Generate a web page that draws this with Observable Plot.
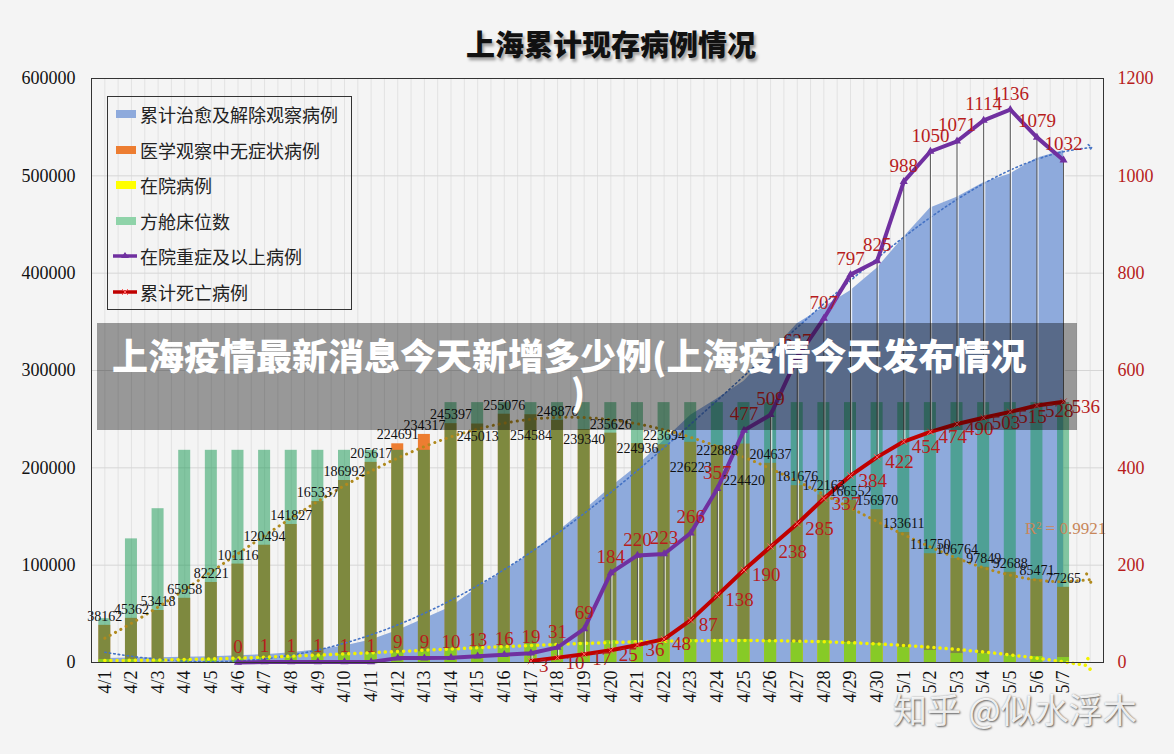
<!DOCTYPE html>
<html><head><meta charset="utf-8">
<script src="https://cdn.jsdelivr.net/npm/d3@7"></script>
<script src="https://cdn.jsdelivr.net/npm/@observablehq/plot@0.6"></script>
<style>
html,body{margin:0;padding:0;background:#f4f4f4;}
#wrap{position:relative;width:1174px;height:754px;overflow:hidden;background:#f4f4f4;}
#chart{position:absolute;left:0;top:0;}
#title{position:absolute;top:22px;left:611px;transform:translateX(-50%);font:900 29px "Noto Sans CJK SC";color:#111;text-shadow:2px 3px 3px rgba(0,0,0,0.35);white-space:nowrap;}
#legend{position:absolute;left:107px;top:96px;width:245px;height:214px;border:1px solid #333;box-sizing:border-box;font:18px "Noto Sans CJK SC";color:#222;}
.item{position:absolute;left:0;height:26px;width:240px;}
.item span{position:absolute;left:32px;top:0;line-height:26px;white-space:nowrap;}
.item svg{position:absolute;left:4px;top:5px;}
#banner{position:absolute;left:97px;top:323px;width:980px;height:107px;background:rgba(0,0,0,0.375);color:#fff;font:900 36px "Noto Sans CJK SC";line-height:36px;box-sizing:border-box;padding-top:13px;}
#banner .l1{padding-left:15px;white-space:nowrap;}
#banner .l2{text-align:center;margin-left:-18px;}
#wm{position:absolute;left:893px;top:684px;font:34px "Noto Sans CJK SC";color:rgba(255,255,255,0.9);text-shadow:1px 1px 2px rgba(0,0,0,0.55),0 0 2px rgba(0,0,0,0.3);white-space:nowrap;}
</style></head>
<body>
<div id="wrap">
  <div id="chart"></div>
  <div id="title"></div>
  <div id="legend"></div>
  <div id="banner"></div>
  <div id="wm"></div>
</div>
<script>
// ---------- data ----------
const titleText = "上海累计现存病例情况";
const dates = ["4/1","4/2","4/3","4/4","4/5","4/6","4/7","4/8","4/9","4/10","4/11","4/12","4/13","4/14","4/15","4/16","4/17","4/18","4/19","4/20","4/21","4/22","4/23","4/24","4/25","4/26","4/27","4/28","4/29","4/30","5/1","5/2","5/3","5/4","5/5","5/6","5/7"];
const seriesNames = ["累计治愈及解除观察病例","医学观察中无症状病例","在院病例","方舱床位数","在院重症及以上病例","累计死亡病例"];
const recovered = [4000,4500,5000,5500,6000,7000,8000,10000,13000,17000,23000,33000,45000,57000,77000,94000,112000,134000,156000,180000,202000,228000,254000,271000,289000,318000,348000,365000,382000,405000,437000,467000,478000,493000,502000,518000,526000];
const observing = [38162,45362,53418,65958,82221,101116,120494,141827,165337,186992,205617,224691,234317,245397,245013,255076,254584,248870,239340,235626,224936,223694,226223,222888,224420,204637,181676,172163,166552,156970,133611,111750,106764,97849,92688,85471,77265];
const hospital = [3000,3000,3000,3000,3500,4000,5000,6000,7000,8000,9000,10000,11000,14000,15000,16000,19000,19000,20500,22600,22600,22600,23600,23600,23600,22600,20500,22600,20500,19500,15500,12300,9200,9200,7200,6200,5100];
const beds = [45000,127000,158000,218000,218000,218000,218000,218000,218000,218000,218000,218000,218000,267000,267000,267000,267000,267000,267000,267000,267000,267000,267000,267000,267000,267000,267000,267000,267000,267000,267000,267000,267000,267000,267000,267000,267000];
const severe = [null,null,null,null,null,0,1,1,1,1,1,9,9,10,13,16,19,31,69,184,220,223,266,357,477,509,627,707,797,825,988,1050,1071,1114,1136,1079,1032];
const deaths = [null,null,null,null,null,null,null,null,null,null,null,null,null,null,null,null,3,10,17,25,36,48,87,138,190,238,285,337,384,422,454,474,490,503,515,528,536];
const leftTicks = [0,100000,200000,300000,400000,500000,600000];
const r2Text = "R² = 0.9921";
const bannerLine1 = "上海疫情最新消息今天新增多少例(上海疫情今天发布情况";
const bannerLine2 = ")";
const watermark = "知乎 @似水浮木";

// ---------- colors ----------
const C = {area:"#8eaadc", orange:"#ED7D31", yellow:"#FFFF00", green:"rgb(15,150,78)", greenSwatch:"#8fd3a9", purple:"#7030A0", red:"#C00000", label:"#b71c1c"};
const K = 600000/1200; // right axis maps onto left axis

// ---------- helpers ----------
function polyfit(ys, deg){
  const n = deg+1;
  const A = Array.from({length:n},()=>Array(n+1).fill(0));
  ys.forEach((y,i)=>{ const x=i+1; for(let r=0;r<n;r++){ for(let c=0;c<n;c++) A[r][c]+=Math.pow(x,r+c); A[r][n]+=y*Math.pow(x,r);} });
  for(let i=0;i<n;i++){
    let p=i; for(let k=i+1;k<n;k++) if(Math.abs(A[k][i])>Math.abs(A[p][i])) p=k;
    [A[i],A[p]]=[A[p],A[i]];
    for(let k=i+1;k<n;k++){ const f=A[k][i]/A[i][i]; for(let c=i;c<=n;c++) A[k][c]-=f*A[i][c]; }
  }
  const co=Array(n).fill(0);
  for(let i=n-1;i>=0;i--){ let s=A[i][n]; for(let c=i+1;c<n;c++) s-=A[i][c]*co[c]; co[i]=s/A[i][i]; }
  return x=>co.reduce((s,c,k)=>s+c*Math.pow(x,k),0);
}

const catDomain = [...dates, " "];
const rows = dates.map((d,i)=>({i, date:d, recovered:recovered[i], observing:observing[i], hospital:hospital[i], beds:beds[i], severe:severe[i], deaths:deaths[i]}));
const sev = rows.filter(d=>d.severe!=null);
const dea = rows.filter(d=>d.deaths!=null);
const both = rows.filter(d=>d.severe!=null && d.deaths!=null);

function trend(values, deg){
  const f = polyfit(values, deg);
  return catDomain.map((d,i)=>({date:d, v:f(i+1)}));
}
const tBlue = trend(recovered, 4);
const tBrown = trend(observing, 4);
const tYellow = trend(hospital, 3);

// bar-label vertical offset: crowded middle stretch staggers labels under the bar tops
const belowOffset = {14:12, 16:21, 18:10, 20:5, 22:25, 23:5, 24:36};
const labelDy = d => (d.i in belowOffset) ? belowOffset[d.i] : -9;

// ---------- chart ----------
const chart = Plot.plot({
  width:1174, height:754,
  marginTop:78, marginBottom:92, marginLeft:91, marginRight:71,
  style:{background:"transparent", fontFamily:"Liberation Serif", fontSize:"18px", color:"#111", overflow:"visible"},
  x:{type:"band", domain:catDomain, paddingInner:0.55, paddingOuter:0.275, round:false, axis:null},
  y:{domain:[0,600000], axis:null, label:null},
  marks:[
    Plot.ruleX(catDomain, {x:d=>d, stroke:"#e2e2e2", strokeWidth:1}),
    Plot.ruleX(catDomain, {x:d=>d, dx:13.3, stroke:"#e2e2e2", strokeWidth:1}),
    Plot.ruleY(leftTicks.slice(1), {y:d=>d, stroke:"#d6d6d6", strokeWidth:1}),
    Plot.areaY(rows, {x:"date", y:"recovered", fill:C.area}),
    Plot.barY(rows, {x:"date", y:"observing", fill:C.orange}),
    Plot.barY(rows, {x:"date", y:"hospital", fill:C.yellow}),
    Plot.barY(rows, {x:"date", y:"beds", fill:C.green, fillOpacity:0.5}),
    Plot.line(tBlue, {x:"date", y:"v", stroke:"#4472C4", strokeWidth:1.6, strokeDasharray:"1.5,3", curve:"natural", markerEnd:"arrow"}),
    Plot.line(tBrown, {x:"date", y:"v", stroke:"#b08a1e", strokeWidth:3, strokeLinecap:"round", strokeDasharray:"0.1,6", curve:"natural", markerEnd:"arrow"}),
    Plot.line(tYellow, {x:"date", y:"v", stroke:"#f2f200", strokeWidth:3.5, strokeLinecap:"round", strokeDasharray:"0.1,6", curve:"natural", markerEnd:"arrow"}),
    Plot.ruleX(both, {x:"date", y1:d=>d.deaths*K, y2:d=>d.severe*K, stroke:"#fff", strokeOpacity:0.8, strokeWidth:1.4, dx:1}),
    Plot.ruleX(both, {x:"date", y1:d=>d.deaths*K, y2:d=>d.severe*K, stroke:"#555", strokeWidth:1}),
    Plot.line(dea, {x:"date", y:d=>d.deaths*K, stroke:C.red, strokeWidth:4}),
    Plot.dot(dea, {x:"date", y:d=>d.deaths*K, symbol:"times", r:3, stroke:"#ff6060", strokeWidth:1}),
    Plot.line(sev, {x:"date", y:d=>d.severe*K, stroke:C.purple, strokeWidth:4}),
    Plot.dot(sev, {x:"date", y:d=>d.severe*K, symbol:"triangle", r:3, fill:C.purple}),
    ...rows.map(d => Plot.text([d], {x:"date", y:"observing", text:r=>String(r.observing), dy:labelDy(d), fontSize:14, fill:"#111"})),
    Plot.text(sev, {x:"date", y:d=>d.severe*K, text:d=>String(d.severe), dy:-16, fontSize:19, fill:C.label}),
    Plot.text(dea, {x:"date", y:d=>d.deaths*K, text:d=>String(d.deaths), textAnchor:"start", dx:8, dy:5, fontSize:19, fill:C.label}),
    Plot.text([r2Text], {x:()=>" ", y:()=>138000, text:d=>d, textAnchor:"end", dx:16, fontSize:17, fill:"#c8875a"}),
    Plot.frame({stroke:"#333", strokeWidth:1}),
    Plot.axisY({anchor:"left", ticks:leftTicks, tickSize:0, tickPadding:16, tickFormat:d3.format("d"), fontSize:18, label:null}),
    Plot.axisY({anchor:"right", ticks:leftTicks, tickSize:0, tickPadding:14, tickFormat:d=>d3.format("d")(d/K), fontSize:18, color:C.label, label:null}),
    Plot.axisX({tickRotate:-90, tickSize:0, tickPadding:8, fontSize:18, label:null})
  ]
});
document.getElementById("chart").appendChild(chart);

// ---------- html texts ----------
document.getElementById("title").textContent = titleText;
const legendKinds = ["rect","rect","rect","rect","line","line"];
const legendColors = [C.area, C.orange, C.yellow, C.greenSwatch, C.purple, C.red];
const legend = document.getElementById("legend");
seriesNames.forEach((name,i)=>{
  const it = document.createElement("div");
  it.className = "item";
  it.style.top = (4 + i*35.6) + "px";
  let sw;
  if(legendKinds[i]==="rect"){
    sw = `<svg width="26" height="16"><rect x="4" y="4" width="20" height="8" fill="${legendColors[i]}"/></svg>`;
  } else if(i===4){
    sw = `<svg width="26" height="16"><line x1="1" y1="8" x2="25" y2="8" stroke="${legendColors[i]}" stroke-width="3.5"/><path d="M13,4 L17,10 L9,10 Z" fill="${legendColors[i]}"/></svg>`;
  } else {
    sw = `<svg width="26" height="16"><line x1="1" y1="8" x2="25" y2="8" stroke="${legendColors[i]}" stroke-width="3.5"/><path d="M10,5 L16,11 M16,5 L10,11" stroke="#ff6060" stroke-width="1"/></svg>`;
  }
  it.innerHTML = sw + `<span>${name}</span>`;
  legend.appendChild(it);
});
document.getElementById("banner").innerHTML = `<div class="l1">${bannerLine1}</div><div class="l2">${bannerLine2}</div>`;
document.getElementById("wm").textContent = watermark;
</script>
</body></html>
